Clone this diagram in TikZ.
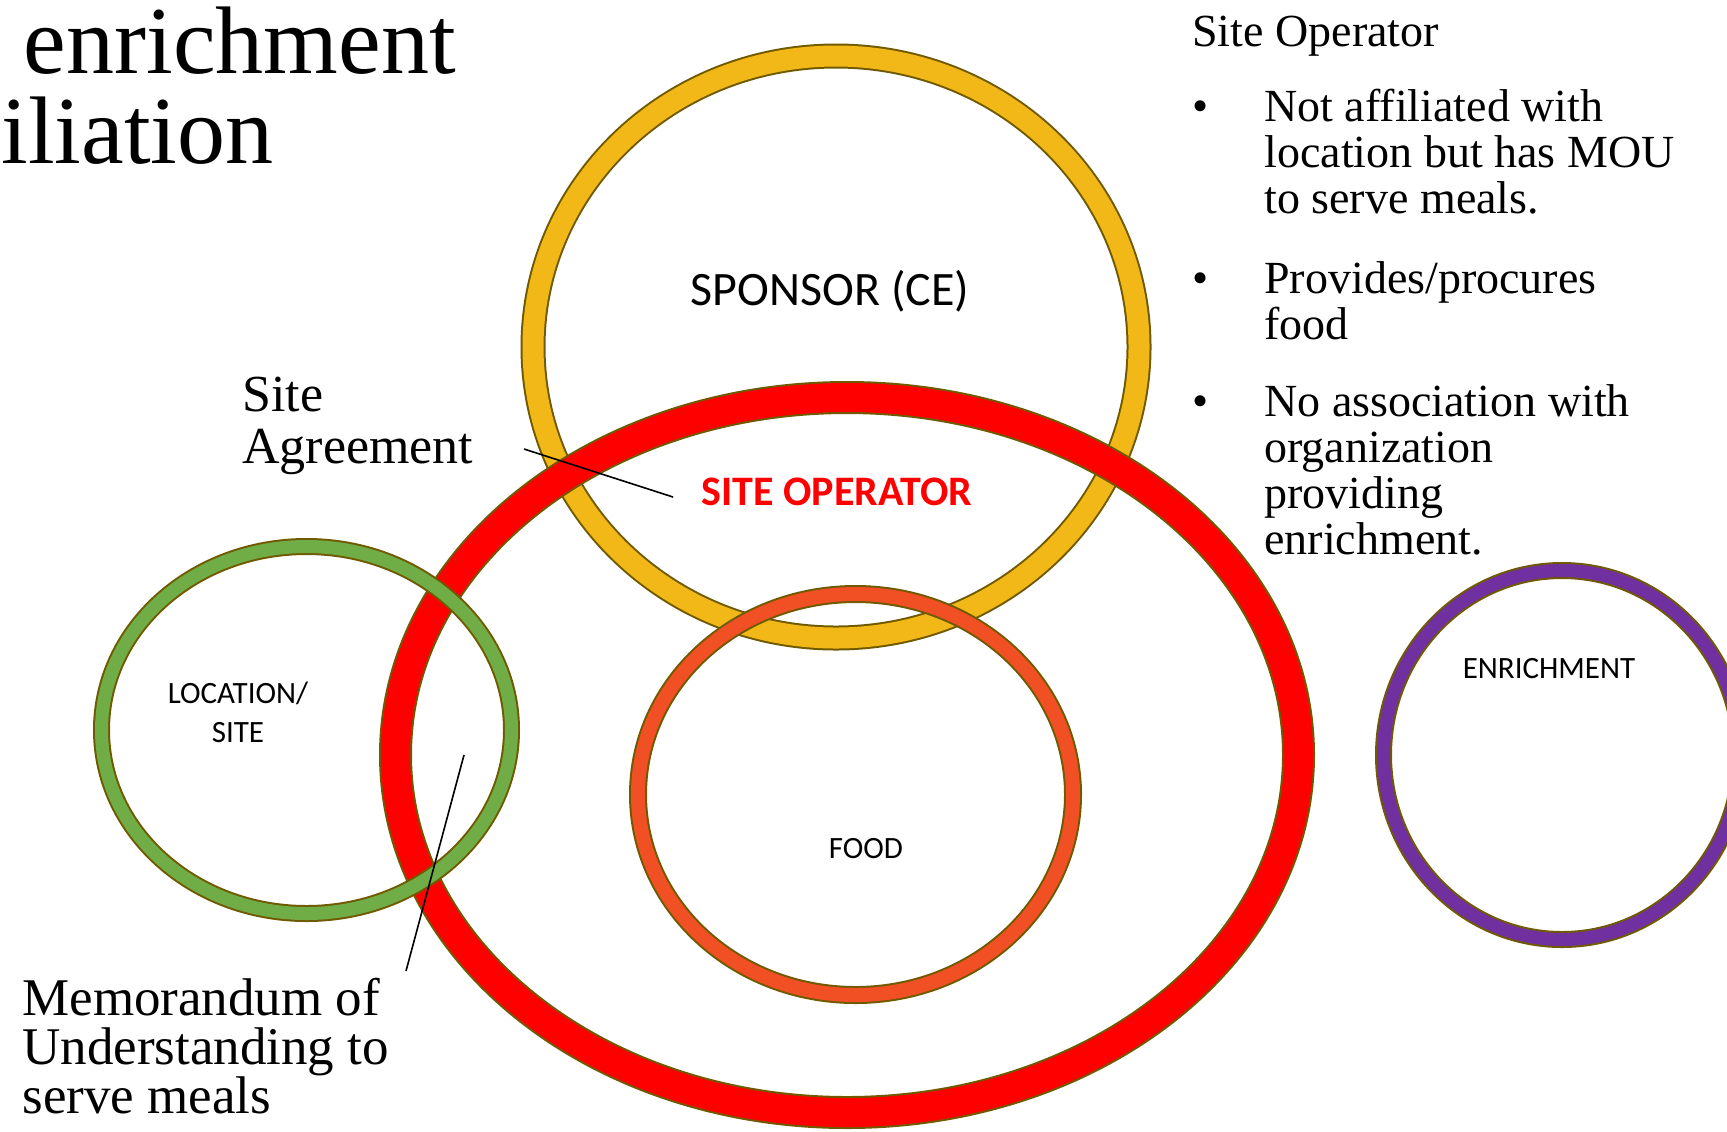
\documentclass[tikz,border=0pt]{standalone}
\usepackage{fontspec}
\setmainfont{Liberation Serif}
\newfontfamily\calibrifont{Carlito}

\definecolor{ringedge}{HTML}{705A00}
\definecolor{sponsorgold}{HTML}{F2B817}
\definecolor{sitered}{HTML}{FF0000}
\definecolor{locationgreen}{HTML}{70AD47}
\definecolor{foodorange}{HTML}{F05023}
\definecolor{enrichpurple}{HTML}{7030A0}

\begin{document}
\begin{tikzpicture}[x=0.5pt,y=-0.5pt,
	ring/.style={draw=ringedge,line width=1pt,double=#1},
	serif text/.style={inner sep=0pt,anchor=base west},
	ring label/.style={inner sep=0pt,anchor=base,font=\calibrifont\fontsize{15.5pt}{19.5pt}\selectfont},
	leader/.style={draw=black,line width=0.8pt}]

	\useasboundingbox (0,0) rectangle (1727,1131);
	\fill[white] (0,0) rectangle (1727,1131);
	\clip (0,0) rectangle (1727,1131);

	\draw[ring=sponsorgold,double distance=10.5pt] (836,347) ellipse [x radius=303,y radius=291];
	\draw[ring=sitered,double distance=14.5pt] (847,755) ellipse [x radius=451.5,y radius=357.5];
	\draw[ring=locationgreen,double distance=6.5pt] (306.5,730) ellipse [x radius=205,y radius=183.5];
	\draw[ring=foodorange,double distance=7pt] (855.5,794.5) ellipse [x radius=217.5,y radius=200.5];
	\draw[ring=enrichpurple,double distance=6.5pt] (1562,755) ellipse [x radius=178.5,y radius=184.5];

	\node[serif text,anchor=base east,font=\fontsize{48pt}{48pt}\selectfont] (headA) at (456,73) {enrichment};
	\node[serif text,font=\fontsize{48pt}{48pt}\selectfont] (headB) at (1,163) {iliation};

	\node[serif text,font=\fontsize{23pt}{23pt}\selectfont] (notes) at (1192,46)
	{
		\begin{tabular}[t]{@{}l@{}l@{}}
		\multicolumn{2}{@{}l@{}}{Site Operator} \\[14.5pt]
		\makebox[36pt][l]{\textbullet} & Not affiliated with \\
		& location but has MOU \\
		& to serve meals. \\[17pt]
		\textbullet & Provides/procures \\
		& food \\[15.5pt]
		\textbullet & No association with \\
		& organization \\
		& providing \\
		& enrichment.
		\end{tabular}
	};

	\node[serif text,font=\fontsize{26pt}{26pt}\selectfont] (agree) at (242,411)
	{\begin{tabular}[t]{@{}l@{}}Site\\Agreement\end{tabular}};
	\node[serif text,anchor=south west,align=left,font=\fontsize{26.5pt}{24.5pt}\selectfont] (memo) at (22,1114)
	{Memorandum of\\Understanding to\\serve meals};

	\node[ring label,font=\calibrifont\fontsize{24pt}{24pt}\selectfont] (sponsor) at (830,305) {SPONSOR (CE)};
	\node[ring label,font=\calibrifont\bfseries\fontsize{21pt}{21pt}\selectfont,text=sitered] (siteop) at (837,505) {SITE OPERATOR};
	\node[ring label] (location) at (238,703) {\begin{tabular}[t]{@{}c@{}}LOCATION/\\SITE\end{tabular}};
	\node[ring label] (food) at (866,858) {FOOD};
	\node[ring label] (enrich) at (1549,678) {ENRICHMENT};

	\coordinate (agreeA) at (524,449);
	\coordinate (agreeB) at (673,497);
	\coordinate (memoA) at (464,755);
	\coordinate (memoB) at (406,971);
	\draw[leader] (agreeA) -- (agreeB);
	\draw[leader] (memoA) -- (memoB);
\end{tikzpicture}
\end{document}
